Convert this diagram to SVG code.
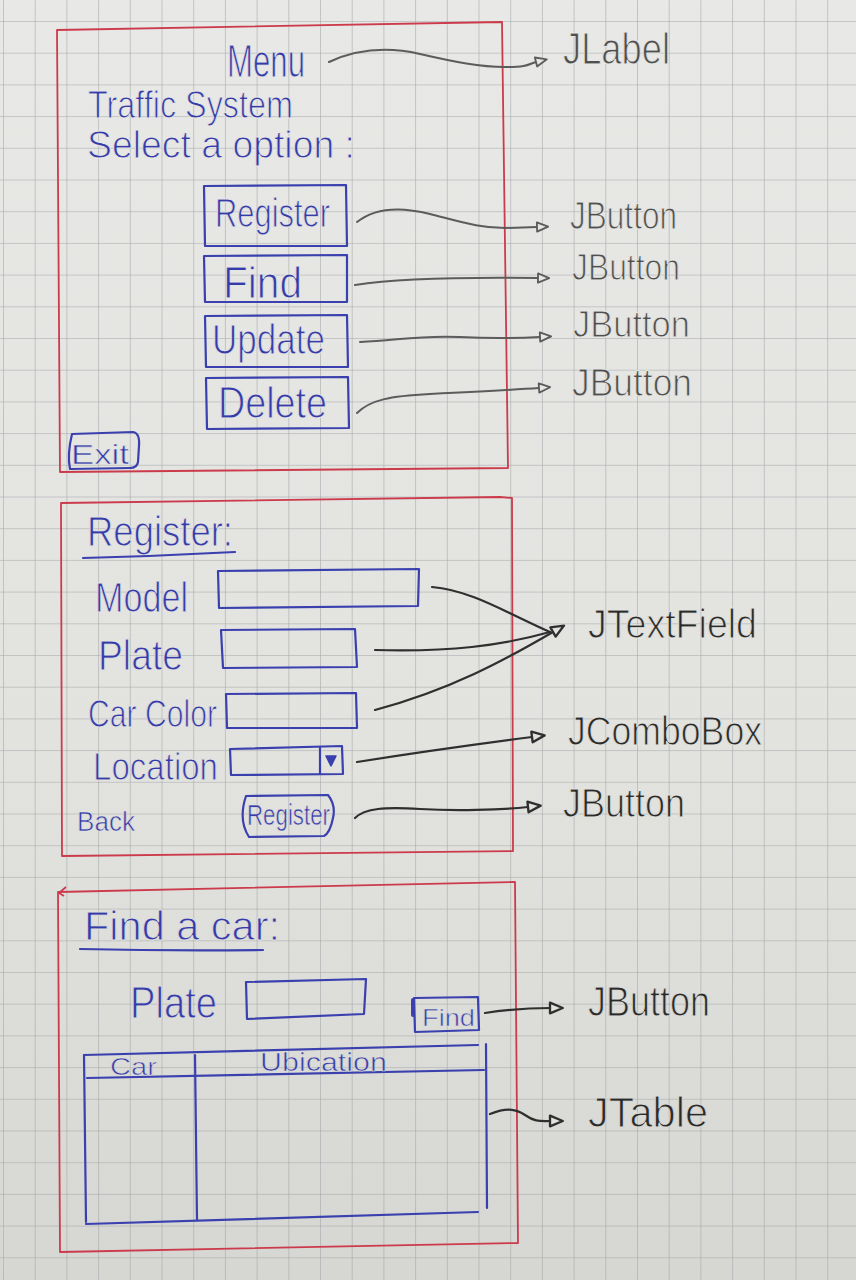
<svg xmlns="http://www.w3.org/2000/svg" width="856" height="1280" viewBox="0 0 856 1280">
  <defs>
    <linearGradient id="paperShade" gradientUnits="userSpaceOnUse" x1="0" y1="0" x2="0" y2="1280">
      <stop offset="0" stop-color="#e8e8e6"/>
      <stop offset="0.6" stop-color="#e2e2df"/>
      <stop offset="1" stop-color="#d6d6d3"/>
    </linearGradient>
    <pattern id="grid" patternUnits="userSpaceOnUse" x="3" y="21" width="31.7" height="31.7">
      <path d="M0 0 H31.7 M0 0 V31.7" fill="none" stroke="#a2a5a8" stroke-width="1.1"/>
    </pattern>
    <marker id="tipPencil" viewBox="0 0 16 14" refX="2" refY="7" markerWidth="15" markerHeight="13" markerUnits="userSpaceOnUse" orient="auto">
      <path d="M2 2 L14 7 L2 12 Z" fill="#e6e6e3" stroke="#5c5c5c" stroke-width="2" stroke-linejoin="round"/>
    </marker>
    <marker id="tipPen" viewBox="0 0 16 14" refX="2" refY="7" markerWidth="17" markerHeight="15" markerUnits="userSpaceOnUse" orient="auto">
      <path d="M2 2 L14 7 L2 12 Z" fill="#e2e2df" stroke="#2f2f2f" stroke-width="2.2" stroke-linejoin="round"/>
    </marker>
  </defs>
  <style>
    .frame { fill: none; stroke: #cc3b4b; stroke-width: 1.8; stroke-linejoin: round; }
    .ink { fill: none; stroke: #3a40ae; stroke-width: 2.2; stroke-linejoin: round; stroke-linecap: round; }
    .inkText { fill: #353ba9; font-family: "Liberation Sans", "DejaVu Sans", sans-serif; }
    .pencil { fill: none; stroke: #5c5c5c; stroke-width: 2; stroke-linecap: round; }
    .pen { fill: none; stroke: #2f2f2f; stroke-width: 2.2; stroke-linecap: round; }
    .pencilText { fill: #4f4f4f; font-family: "Liberation Sans", "DejaVu Sans", sans-serif; }
    .penText { fill: #2a2a2a; font-family: "Liberation Sans", "DejaVu Sans", sans-serif; }
    /* pen-width lettering: a paper-coloured stroke trims the glyph edges */
    .thin { stroke: url(#paperShade); stroke-width: 1.0; stroke-linejoin: round; }
    .thinSm { stroke: url(#paperShade); stroke-width: 0.6; stroke-linejoin: round; }
  </style>

  <!-- squared notebook paper -->
  <rect x="0" y="0" width="856" height="1280" fill="url(#paperShade)"/>
  <rect x="0" y="0" width="856" height="1280" fill="url(#grid)"/>

  <!-- Menu window -->
  <g id="menu-window">
    <path class="frame" d="M57 30 L502 22 L508 468 L60 472 Z"/>
    <text class="inkText thin" x="227" y="77" font-size="46" textLength="78" lengthAdjust="spacingAndGlyphs">Menu</text>
    <text class="inkText thin" x="88" y="118" font-size="38" textLength="205" lengthAdjust="spacingAndGlyphs">Traffic System</text>
    <text class="inkText thin" x="87" y="158" font-size="38" textLength="268" lengthAdjust="spacingAndGlyphs">Select a option :</text>
    <g id="btn-register">
      <path class="ink" d="M204 186 L346 185 L347 246 L205 246 Z"/>
      <text class="inkText thin" x="215" y="227" font-size="40" textLength="115" lengthAdjust="spacingAndGlyphs">Register</text>
    </g>
    <g id="btn-find">
      <path class="ink" d="M204 256 L347 255 L347 302 L205 302 Z"/>
      <text class="inkText thin" x="223" y="298" font-size="44" textLength="79" lengthAdjust="spacingAndGlyphs">Find</text>
    </g>
    <g id="btn-update">
      <path class="ink" d="M205 316 L347 315 L348 367 L206 367 Z"/>
      <text class="inkText thin" x="212" y="354" font-size="42" textLength="113" lengthAdjust="spacingAndGlyphs">Update</text>
    </g>
    <g id="btn-delete">
      <path class="ink" d="M206 378 L348 377 L349 428 L207 429 Z"/>
      <text class="inkText thin" x="218" y="418" font-size="44" textLength="109" lengthAdjust="spacingAndGlyphs">Delete</text>
    </g>
    <g id="btn-exit">
      <path class="ink" d="M72 434 L133 432 Q140 433 139 446 L138 462 Q137 468 130 468 L70 469 Q67 455 72 434 Z"/>
      <text class="inkText thinSm" x="71" y="464" font-size="28" textLength="58" lengthAdjust="spacingAndGlyphs">Exit</text>
    </g>
  </g>

  <!-- Register window -->
  <g id="register-window">
    <path class="frame" d="M61 503 L500 497 L512 498 L513 851 L62 856 Z"/>
    <text class="inkText thin" x="87" y="546" font-size="42" textLength="146" lengthAdjust="spacingAndGlyphs">Register:</text>
    <path class="ink" d="M83 558 Q160 556 235 552"/>
    <g id="field-model">
      <text class="inkText thin" x="95" y="612" font-size="42" textLength="93" lengthAdjust="spacingAndGlyphs">Model</text>
      <path class="ink" d="M218 571 L419 569 L418 606 L219 608 Z"/>
    </g>
    <g id="field-plate">
      <text class="inkText thin" x="98" y="670" font-size="42" textLength="85" lengthAdjust="spacingAndGlyphs">Plate</text>
      <path class="ink" d="M221 630 L355 629 L357 667 L223 668 Z"/>
    </g>
    <g id="field-color">
      <text class="inkText thin" x="88" y="727" font-size="38" textLength="129" lengthAdjust="spacingAndGlyphs">Car Color</text>
      <path class="ink" d="M226 694 L356 693 L357 728 L227 728 Z"/>
    </g>
    <g id="combo-location">
      <text class="inkText thin" x="93" y="780" font-size="38" textLength="125" lengthAdjust="spacingAndGlyphs">Location</text>
      <path class="ink" d="M230 749 L342 746 L343 774 L231 775 Z"/>
      <path class="ink" d="M320 747 L320 774"/>
      <path d="M326 756 L336 756 L331 766 Z" fill="#3a40ae" stroke="#3a40ae" stroke-width="1.5" stroke-linejoin="round"/>
    </g>
    <text class="inkText thinSm" x="77" y="831" font-size="27" textLength="58" lengthAdjust="spacingAndGlyphs">Back</text>
    <g id="btn-register-submit">
      <path class="ink" d="M246 796 L328 795 Q336 805 333 818 Q330 833 324 836 L249 837 Q238 820 246 796 Z"/>
      <text class="inkText thinSm" x="247" y="825" font-size="29" textLength="83" lengthAdjust="spacingAndGlyphs">Register</text>
    </g>
  </g>

  <!-- Find window -->
  <g id="find-window">
    <path class="frame" d="M58 892 L515 882 L518 1243 L60 1252 Z"/>
    <path class="frame" d="M59 893 L66 887 M59 893 L64 896"/>
    <text class="inkText thin" x="84" y="940" font-size="40" textLength="196" lengthAdjust="spacingAndGlyphs">Find a car:</text>
    <path class="ink" d="M80 949 Q170 951 263 950"/>
    <g id="field-find-plate">
      <text class="inkText thin" x="130" y="1018" font-size="44" textLength="87" lengthAdjust="spacingAndGlyphs">Plate</text>
      <path class="ink" d="M246 982 L366 979 L364 1014 L247 1019 Z"/>
    </g>
    <g id="btn-find-car">
      <path class="ink" d="M414 998 L478 997 L479 1030 L415 1032 Z"/>
      <path d="M413 1000 L413 1015" stroke="#3a40ae" stroke-width="4" stroke-linecap="round"/>
      <text class="inkText thinSm" x="422" y="1026" font-size="24" textLength="53" lengthAdjust="spacingAndGlyphs">Find</text>
    </g>
    <g id="table-results">
      <path class="ink" d="M84 1055 L478 1045"/>
      <path class="ink" d="M486 1044 L487 1208"/>
      <path class="ink" d="M84 1055 L86 1222"/>
      <path class="ink" d="M87 1078 L484 1070"/>
      <path class="ink" d="M195 1055 L197 1220"/>
      <path class="ink" d="M86 1224 L478 1212"/>
      <text class="inkText thinSm" x="110" y="1075" font-size="24" textLength="47" lengthAdjust="spacingAndGlyphs">Car</text>
      <text class="inkText thinSm" x="260" y="1071" font-size="26" textLength="127" lengthAdjust="spacingAndGlyphs">Ubication</text>
    </g>
  </g>

  <!-- component annotations -->
  <g id="connectors">
    <path class="pencil" marker-end="url(#tipPencil)" d="M329 62 C 355 50, 385 46, 420 54 S 480 67, 505 67 S 528 64, 536 62"/>
    <path class="pencil" marker-end="url(#tipPencil)" d="M357 222 C 372 210, 395 205, 430 214 S 480 228, 505 228 L 537 227"/>
    <path class="pencil" marker-end="url(#tipPencil)" d="M355 285 C 400 278, 460 277, 538 278"/>
    <path class="pencil" marker-end="url(#tipPencil)" d="M360 342 C 400 340, 420 335, 460 337 S 520 338, 540 337"/>
    <path class="pencil" marker-end="url(#tipPencil)" d="M357 413 C 370 400, 390 396, 430 394 S 510 390, 539 388"/>

    <path class="pen" d="M432 587 C 470 590, 505 612, 550 632"/>
    <path class="pen" d="M375 650 C 450 652, 500 646, 550 632"/>
    <path class="pen" marker-end="url(#tipPen)" d="M375 710 C 450 690, 505 660, 553 632"/>
    <path class="pen" marker-end="url(#tipPen)" d="M357 762 C 420 752, 470 745, 532 737"/>
    <path class="pen" marker-end="url(#tipPen)" d="M355 818 C 365 808, 385 807, 420 809 S 500 810, 528 807"/>
    <path class="pen" marker-end="url(#tipPen)" d="M485 1013 C 505 1010, 530 1008, 550 1008"/>
    <path class="pen" marker-end="url(#tipPen)" d="M490 1114 C 505 1108, 515 1108, 525 1115 S 540 1121, 550 1121"/>
  </g>

  <g id="annotation-labels">
    <text class="pencilText thin" x="563" y="64" font-size="44" textLength="107" lengthAdjust="spacingAndGlyphs">JLabel</text>
    <text class="pencilText thin" x="570" y="229" font-size="38" textLength="107" lengthAdjust="spacingAndGlyphs">JButton</text>
    <text class="pencilText thin" x="572" y="280" font-size="36" textLength="108" lengthAdjust="spacingAndGlyphs">JButton</text>
    <text class="pencilText thin" x="573" y="337" font-size="36" textLength="117" lengthAdjust="spacingAndGlyphs">JButton</text>
    <text class="pencilText thin" x="572" y="396" font-size="38" textLength="120" lengthAdjust="spacingAndGlyphs">JButton</text>
    <text class="penText thin" x="588" y="638" font-size="40" textLength="169" lengthAdjust="spacingAndGlyphs">JTextField</text>
    <text class="penText thin" x="568" y="745" font-size="40" textLength="194" lengthAdjust="spacingAndGlyphs">JComboBox</text>
    <text class="penText thin" x="563" y="817" font-size="40" textLength="122" lengthAdjust="spacingAndGlyphs">JButton</text>
    <text class="penText thin" x="588" y="1016" font-size="42" textLength="122" lengthAdjust="spacingAndGlyphs">JButton</text>
    <text class="penText thin" x="588" y="1127" font-size="42" textLength="120" lengthAdjust="spacingAndGlyphs">JTable</text>
  </g>
</svg>
